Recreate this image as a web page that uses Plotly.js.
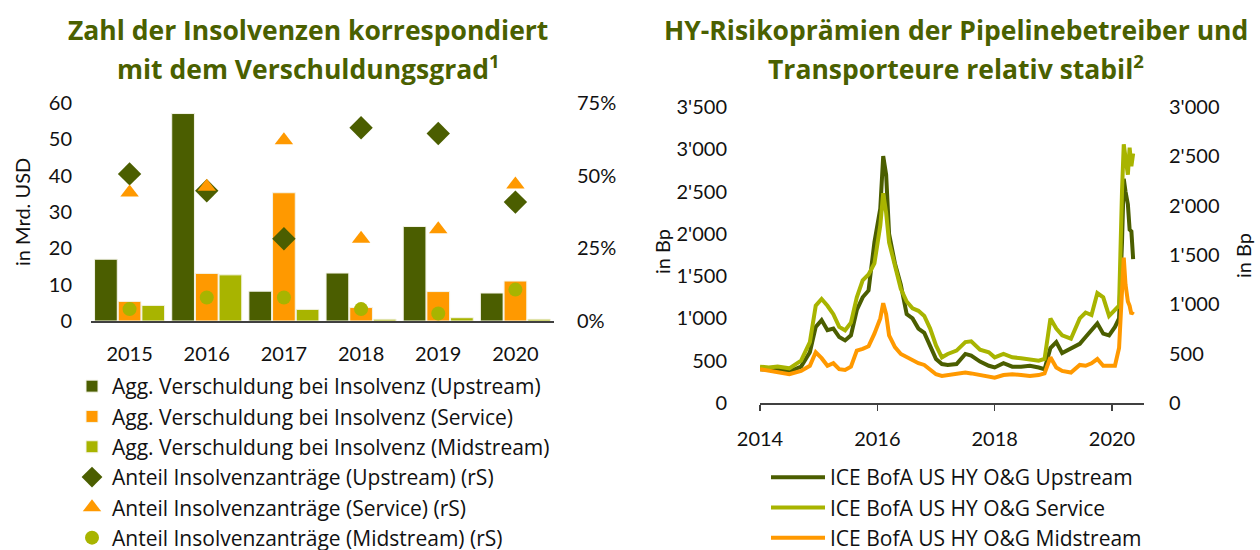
<!DOCTYPE html>
<html><head><meta charset="utf-8">
<script src="https://cdn.plot.ly/plotly-3.0.1.min.js"></script>
<style>body{margin:0;padding:0;background:#fff}#chart{width:1260px;height:550px}</style>
</head><body><div id="chart"></div>
<script>
// ---------- Left chart data ----------
const years = ['2015','2016','2017','2018','2019','2020'];
const debtUpstream  = [17.0, 57.1, 8.2, 13.2, 26.0, 7.7];
const debtService   = [5.4, 13.1, 35.3, 3.7, 8.1, 11.0];
const debtMidstream = [4.3, 12.7, 3.2, 0.5, 0.9, 0.5];
const shareUpstream  = [50.6, 44.8, 28.3, 66.5, 64.5, 40.9];
const shareService   = [44.2, 46.2, 62.2, 28.3, 31.6, 47.0];
const shareMidstream = [4.1, 8.1, 8.1, 4.1, 2.6, 10.8];
const shareTickVals = [0, 25, 50, 75];
const shareTickText = ['0%', '25%', '50%', '75%'];

// ---------- Right chart data (decimal years, Bp) ----------
const t = [2014.0,2014.15,2014.3,2014.5,2014.7,2014.85,2014.95,2015.05,2015.15,2015.25,2015.35,2015.45,2015.55,2015.65,2015.75,2015.85,2015.95,2016.05,2016.1,2016.15,2016.2,2016.3,2016.4,2016.5,2016.6,2016.7,2016.8,2016.9,2017.0,2017.1,2017.2,2017.35,2017.5,2017.6,2017.75,2017.9,2018.0,2018.15,2018.3,2018.45,2018.6,2018.75,2018.85,2018.95,2019.05,2019.15,2019.3,2019.45,2019.55,2019.65,2019.75,2019.85,2019.95,2020.05,2020.12,2020.17,2020.2,2020.23,2020.27,2020.3,2020.33,2020.36];
const hyUpstream = [400,390,395,370,430,600,900,980,860,880,780,740,800,1100,1250,1330,1900,2300,2920,2700,2000,1650,1400,1050,1000,880,830,680,520,460,450,460,580,560,490,440,420,470,430,430,440,420,400,650,720,590,650,700,780,860,940,820,800,900,1000,1900,2650,2500,2350,2050,2030,1700];
const hyService = [430,420,430,410,500,720,1150,1230,1150,1050,900,860,950,1250,1450,1520,1650,2100,2480,2250,1900,1600,1350,1200,1120,1090,1030,880,680,540,580,620,720,730,630,600,540,580,540,530,520,500,520,1000,880,800,760,1000,1070,1040,1300,1250,1030,1100,1150,2500,3060,2900,2700,3020,2800,2950];
const hyMidstream = [400,380,360,340,380,440,600,530,440,470,400,390,430,620,640,670,820,1000,1180,1050,800,660,580,540,500,470,450,400,340,320,330,340,360,350,330,310,300,330,340,330,320,330,350,540,420,380,360,450,440,470,520,440,440,440,650,1300,1720,1400,1200,1150,1050,1080];
const yearTicks = [2014, 2016, 2018, 2020];

const C_UP = '#4b5e00', C_SV = '#ff9900', C_MID = '#a8b400';
const FONT = 'Lato, "Open Sans", sans-serif';
const LFONT = '"Open Sans", Lato, sans-serif';

const traces = [
  {type:'bar', x:years, y:debtUpstream, name:'Agg. Verschuldung bei Insolvenz (Upstream)', marker:{color:C_UP, line:{color:'#f4f4e8', width:1}}, xaxis:'x', yaxis:'y', legend:'legend', legendgroup:'a1'},
  {type:'bar', x:years, y:debtService, name:'Agg. Verschuldung bei Insolvenz (Service)', marker:{color:C_SV, line:{color:'#f4f4e8', width:1}}, xaxis:'x', yaxis:'y', legend:'legend', legendgroup:'a2'},
  {type:'bar', x:years, y:debtMidstream, name:'Agg. Verschuldung bei Insolvenz (Midstream)', marker:{color:C_MID, line:{color:'#f4f4e8', width:1}}, xaxis:'x', yaxis:'y', legend:'legend', legendgroup:'a3'},
  {type:'scatter', mode:'markers', x:years, y:shareUpstream, name:'Anteil Insolvenzanträge (Upstream) (rS)', marker:{symbol:'diamond', size:18, color:C_UP}, xaxis:'x', yaxis:'y2', legend:'legend', legendgroup:'a4'},
  {type:'scatter', mode:'markers', x:years, y:shareService, name:'Anteil Insolvenzanträge (Service) (rS)', marker:{symbol:'triangle-up', size:16, color:C_SV}, xaxis:'x', yaxis:'y2', legend:'legend', legendgroup:'a5'},
  {type:'scatter', mode:'markers', x:years, y:shareMidstream, name:'Anteil Insolvenzanträge (Midstream) (rS)', marker:{symbol:'circle', size:14, color:C_MID}, xaxis:'x', yaxis:'y2', legend:'legend', legendgroup:'a6'},
  {type:'scatter', mode:'lines', x:t, y:hyUpstream, name:'ICE BofA US HY O&G Upstream', line:{color:C_UP, width:4}, xaxis:'x2', yaxis:'y3', legend:'legend2', legendgroup:'b1'},
  {type:'scatter', mode:'lines', x:t, y:hyService, name:'ICE BofA US HY O&G Service', line:{color:C_MID, width:4}, xaxis:'x2', yaxis:'y3', legend:'legend2', legendgroup:'b2'},
  {type:'scatter', mode:'lines', x:t, y:hyMidstream, name:'ICE BofA US HY O&G Midstream', line:{color:C_SV, width:4}, xaxis:'x2', yaxis:'y3', legend:'legend2', legendgroup:'b3'},
  {type:'scatter', mode:'lines', x:[], y:[], xaxis:'x2', yaxis:'y4', showlegend:false, hoverinfo:'skip'}
];

const tickFont = {family:FONT, size:20, color:'#111'};
const W = 1260, H = 550;
const px = v => v / W, py = v => 1 - v / H;
const titleFont = {family:LFONT, size:26.5, color:'#4a6000'};

const layout = {
  width:W, height:H,
  margin:{l:0, r:0, t:0, b:0, autoexpand:false},
  paper_bgcolor:'#fff', plot_bgcolor:'rgba(0,0,0,0)',
  separators:".'",
  font:{family:FONT, color:'#111'},
  barmode:'group', bargap:0.08, bargroupgap:0.04,
  showlegend:true,
  xaxis:{domain:[px(91), px(554)], anchor:'y', type:'category', showgrid:false, zeroline:false,
         showline:true, linecolor:'#404040', linewidth:2, ticks:'', tickfont:tickFont, ticklabelstandoff:14},
  yaxis:{domain:[py(321), py(103)], anchor:'x', range:[0,60], dtick:10, showgrid:false, zeroline:false,
         showline:false, ticks:'', tickfont:tickFont, ticklabelstandoff:18},
  yaxis2:{overlaying:'y', side:'right', anchor:'x', range:[0,75], tickmode:'array', tickvals:shareTickVals, ticktext:shareTickText,
          showgrid:false, zeroline:false, showline:false, ticks:'', tickfont:tickFont, ticklabelstandoff:22},
  xaxis2:{domain:[px(760), px(1144)], anchor:'y3', range:[2014, 2020.545], tickmode:'array', tickvals:yearTicks,
          showgrid:false, zeroline:false, showline:true, linecolor:'#404040', linewidth:1.5,
          ticks:'outside', ticklen:6, tickwidth:1.5, tickcolor:'#404040', tickfont:tickFont, ticklabelstandoff:11},
  yaxis3:{domain:[py(403), py(107)], anchor:'x2', range:[0,3500], dtick:500, separatethousands:true,
          showgrid:false, zeroline:false, showline:false, ticks:'', tickfont:tickFont, ticklabelstandoff:32},
  yaxis4:{overlaying:'y3', side:'right', anchor:'x2', range:[0,3000], dtick:500, separatethousands:true,
          showgrid:false, zeroline:false, showline:false, ticks:'', tickfont:tickFont, ticklabelstandoff:24},
  legend:{x:px(72), y:py(366), xanchor:'left', yanchor:'top', bgcolor:'rgba(0,0,0,0)',
          font:{family:LFONT, size:21, color:'#111'}, tracegroupgap:0, traceorder:'grouped', itemwidth:30},
  legend2:{x:px(766), y:py(457), xanchor:'left', yanchor:'top', bgcolor:'rgba(0,0,0,0)',
           font:{family:LFONT, size:21, color:'#111'}, tracegroupgap:0, traceorder:'grouped', itemwidth:54},
  annotations:[
    {text:'<b>Zahl der Insolvenzen korrespondiert</b>', x:px(308), y:py(30), xref:'paper', yref:'paper', xanchor:'center', yanchor:'middle', showarrow:false, font:titleFont},
    {text:'<b>mit dem Verschuldungsgrad<sup>1</sup></b>', x:px(308), y:py(67), xref:'paper', yref:'paper', xanchor:'center', yanchor:'middle', showarrow:false, font:titleFont},
    {text:'<b>HY-Risikoprämien der Pipelinebetreiber und</b>', x:px(956), y:py(30), xref:'paper', yref:'paper', xanchor:'center', yanchor:'middle', showarrow:false, font:titleFont},
    {text:'<b>Transporteure relativ stabil<sup>2</sup></b>', x:px(956), y:py(67), xref:'paper', yref:'paper', xanchor:'center', yanchor:'middle', showarrow:false, font:titleFont},
    {text:'in Mrd. USD', x:px(22), y:py(212), xref:'paper', yref:'paper', xanchor:'center', yanchor:'middle', showarrow:false, textangle:-90, font:{family:FONT, size:20, color:'#111'}},
    {text:'in Bp', x:px(662), y:py(252), xref:'paper', yref:'paper', xanchor:'center', yanchor:'middle', showarrow:false, textangle:-90, font:{family:FONT, size:20, color:'#111'}},
    {text:'in Bp', x:px(1243), y:py(256), xref:'paper', yref:'paper', xanchor:'center', yanchor:'middle', showarrow:false, textangle:-90, font:{family:FONT, size:20, color:'#111'}}
  ]
};

Plotly.newPlot('chart', traces, layout, {displayModeBar:false, staticPlot:true});
</script></body></html>
